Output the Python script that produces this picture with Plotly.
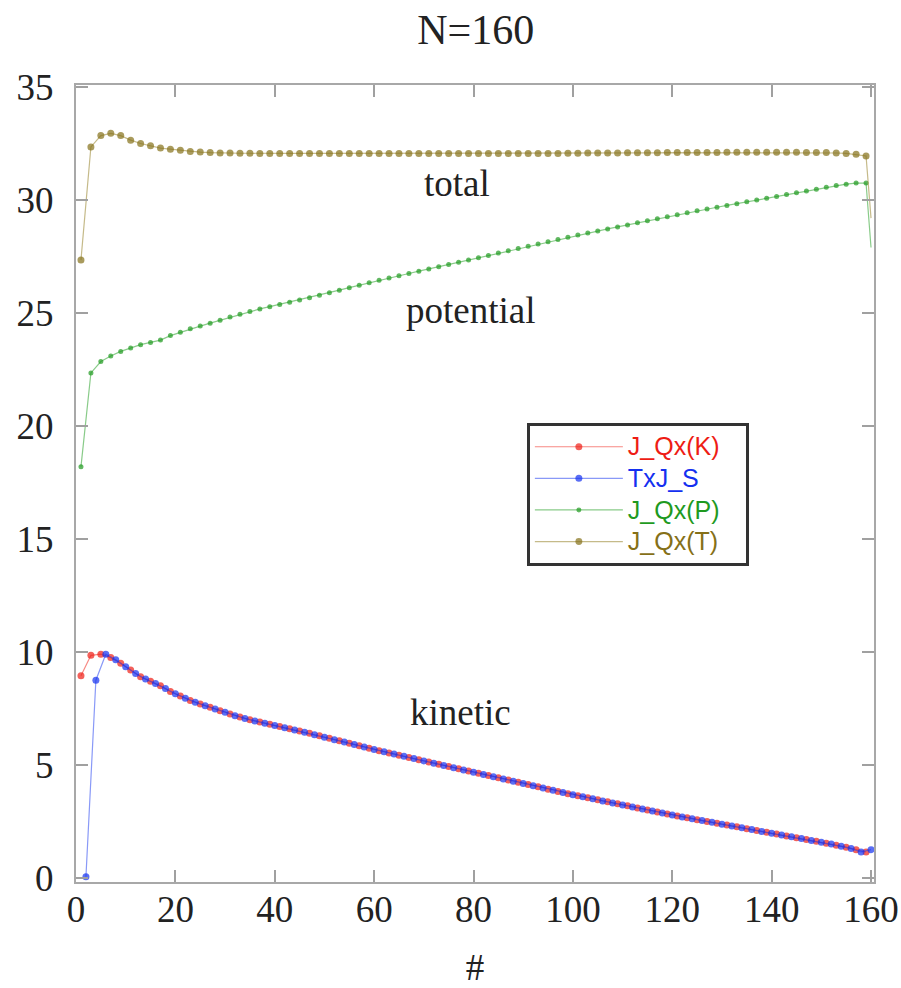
import plotly.graph_objects as go

# sample index (odd / even positions)
x_odd = list(range(1, 160, 2))
x_even = list(range(2, 161, 2))
x_tail = [160]

kinetic_K = [8.95, 9.85, 9.9, 9.75, 9.5, 9.2, 8.9, 8.7, 8.5, 8.25,
             8.05, 7.85, 7.7, 7.55, 7.4, 7.25, 7.12, 7.0, 6.9, 6.8,
             6.70, 6.60, 6.50, 6.40, 6.29, 6.18, 6.07, 5.96, 5.85, 5.74,
             5.63, 5.53, 5.43, 5.33, 5.23, 5.13, 5.03, 4.93, 4.83, 4.73,
             4.63, 4.53, 4.43, 4.33, 4.23, 4.13, 4.03, 3.93, 3.83, 3.73,
             3.64, 3.55, 3.46, 3.37, 3.28, 3.19, 3.10, 3.01, 2.92, 2.83,
             2.74, 2.66, 2.58, 2.50, 2.42, 2.34, 2.26, 2.18, 2.10, 2.02,
             1.94, 1.86, 1.78, 1.70, 1.62, 1.54, 1.45, 1.36, 1.25, 1.15]

txj_S = [0.05, 8.75, 9.9, 9.65, 9.35, 9.05, 8.8, 8.6, 8.38, 8.15,
         7.95, 7.78, 7.62, 7.48, 7.33, 7.18, 7.06, 6.95, 6.85, 6.75,
         6.65, 6.55, 6.45, 6.34, 6.23, 6.12, 6.01, 5.90, 5.79, 5.68,
         5.58, 5.48, 5.38, 5.28, 5.18, 5.08, 4.98, 4.88, 4.78, 4.68,
         4.58, 4.48, 4.38, 4.28, 4.18, 4.08, 3.98, 3.88, 3.78, 3.68,
         3.59, 3.50, 3.41, 3.32, 3.23, 3.14, 3.05, 2.96, 2.87, 2.78,
         2.70, 2.62, 2.54, 2.46, 2.38, 2.30, 2.22, 2.14, 2.06, 1.98,
         1.90, 1.82, 1.74, 1.66, 1.58, 1.50, 1.40, 1.30, 1.15, 1.25]

potential_P = [18.2, 22.35, 22.85, 23.1, 23.3, 23.45, 23.6, 23.7, 23.8, 24.0,
               24.15, 24.3, 24.42, 24.55, 24.68, 24.82, 24.95, 25.07, 25.18, 25.28,
               25.38, 25.48, 25.58, 25.68, 25.79, 25.9, 26.01, 26.12, 26.23, 26.34,
               26.45, 26.55, 26.65, 26.75, 26.85, 26.95, 27.05, 27.15, 27.25, 27.35,
               27.45, 27.55, 27.65, 27.75, 27.85, 27.95, 28.05, 28.15, 28.25, 28.35,
               28.45, 28.54, 28.63, 28.72, 28.81, 28.9, 28.99, 29.08, 29.17, 29.26,
               29.35, 29.44, 29.52, 29.6, 29.68, 29.76, 29.84, 29.92, 30.0, 30.08,
               30.16, 30.24, 30.32, 30.4, 30.48, 30.56, 30.64, 30.7, 30.75, 30.75]
potential_P_tail = [27.9]

total_T = [27.35, 32.35, 32.85, 32.95, 32.85, 32.65, 32.5, 32.4, 32.3, 32.25,
           32.2, 32.15, 32.12, 32.1, 32.08, 32.08, 32.07, 32.07, 32.06, 32.06,
           32.06, 32.06, 32.06, 32.06, 32.06, 32.06, 32.06, 32.06, 32.06, 32.06,
           32.06, 32.06, 32.06, 32.06, 32.06, 32.06, 32.06, 32.06, 32.06, 32.06,
           32.06, 32.06, 32.06, 32.06, 32.06, 32.06, 32.06, 32.06, 32.06, 32.07,
           32.07, 32.08, 32.08, 32.08, 32.08, 32.09, 32.09, 32.09, 32.09, 32.1,
           32.1, 32.1, 32.1, 32.1, 32.1, 32.11, 32.11, 32.11, 32.11, 32.11,
           32.11, 32.11, 32.11, 32.1, 32.1, 32.1, 32.08, 32.06, 32.02, 31.95]
total_T_tail = [29.2]

series_names = ["J_Qx(K)", "TxJ_S", "J_Qx(P)", "J_Qx(T)"]
x_ticks = [0, 20, 40, 60, 80, 100, 120, 140, 160]
y_ticks = [0, 5, 10, 15, 20, 25, 30, 35]

SERIF = "Liberation Serif, Times New Roman, serif"
SANS = "Liberation Sans, Arial, sans-serif"

fig = go.Figure()

styles = [
    ("#ee1c14", "rgba(240,40,30,0.55)", 7),
    ("#1430f0", "rgba(40,70,240,0.55)", 7),
    ("#1f9a1f", "rgba(40,160,40,0.55)", 5),
    ("#857018", "rgba(150,130,40,0.55)", 7),
]

data = [
    (x_odd, kinetic_K),
    (x_even, txj_S),
    (x_odd + x_tail, potential_P + potential_P_tail),
    (x_odd + x_tail, total_T + total_T_tail),
]

for name, (xs, ys), (mc, lc, ms) in zip(series_names, data, styles):
    sizes = [ms] * len(xs)
    if len(xs) > 80:
        sizes[-1] = 0
    fig.add_trace(go.Scatter(
        x=xs, y=ys, mode="lines+markers",
        name=f'<span style="color:{mc};font-size:25px">{name}   </span>',
        line=dict(color=lc, width=1.2),
        marker=dict(color=mc, size=sizes, symbol="circle", line=dict(width=0)),
    ))

for txt, xx, yy in [("total", 0.477, 0.877), ("potential", 0.494, 0.717), ("kinetic", 0.482, 0.213)]:
    fig.add_annotation(text=txt, x=xx, y=yy, xref="paper", yref="paper",
                       xanchor="center", yanchor="middle",
                       showarrow=False, font=dict(family=SERIF, size=37, color="#222"))

axis_common = dict(
    showline=True, linecolor="#a8a8a8", linewidth=2, mirror="allticks",
    ticks="inside", ticklen=12, tickwidth=1.5, tickcolor="#a0a0a0",
    showgrid=False, zeroline=False, automargin=False,
    tickfont=dict(family=SERIF, size=37, color="#222"),
)

fig.update_xaxes(range=[0, 160.6], tickvals=x_ticks, ticklabelstandoff=-6,
                 title=dict(text="#", font=dict(family=SERIF, size=37, color="#222"), standoff=30),
                 **axis_common)
fig.update_yaxes(range=[-0.18, 35.09], tickvals=y_ticks, ticklabelstandoff=13,
                 **axis_common)

fig.update_layout(
    width=901, height=988,
    margin=dict(l=76, r=27, t=85, b=106),
    paper_bgcolor="white", plot_bgcolor="white",
    title=dict(text="N=160", x=0.528, xanchor="center", y=0.970, yanchor="middle",
               font=dict(family=SERIF, size=42, color="#222"), automargin=False),
    showlegend=True,
    legend=dict(x=0.565, y=0.576, xanchor="left", yanchor="top",
                bordercolor="#333", borderwidth=3, bgcolor="white",
                font=dict(family=SANS, size=22), itemwidth=88,
                tracegroupgap=0),
)

fig.write_html("out.html")
